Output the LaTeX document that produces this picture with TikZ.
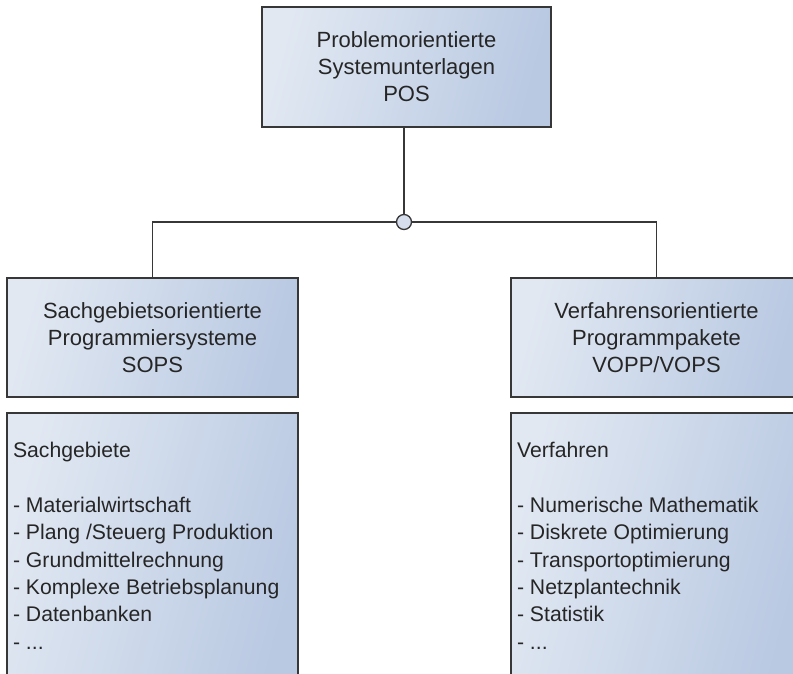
\documentclass[tikz,border=0pt]{standalone}
\usepackage{fontspec}
\setmainfont{Liberation Sans}
\definecolor{boxlight}{RGB}{225,232,242}
\definecolor{boxdark}{RGB}{185,201,226}
\definecolor{edge}{RGB}{55,55,55}
\definecolor{ink}{RGB}{38,38,38}
\definecolor{hubfill}{RGB}{214,222,238}
\begin{document}
\begin{tikzpicture}[x=1pt,y=-1pt,
  box/.style={draw=edge, line width=1.3pt, left color=boxlight, right color=boxdark,
    shading angle=75, inner sep=0, rectangle},
  link/.style={draw=edge, line width=1.3pt},
  title/.style={font=\fontsize{22}{27}\selectfont, align=center, text=ink},
  listing/.style={font=\fontsize{21.2}{27.3}\selectfont, align=left, text=ink,
    anchor=north west, inner sep=0}]
  \useasboundingbox (0,0) rectangle (793,674);
  \clip (0,0) rectangle (793,674);

  % header box
  \node[box, minimum width=289pt, minimum height=120pt] (pos) at (406.5,67) {};
  \node[title] (postext) at (pos.center) {Problemorientierte\\Systemunterlagen\\POS};

  % junction
  \node[circle, draw=edge, line width=1.3pt, fill=hubfill, minimum size=15pt, inner sep=0] (hub) at (404,222) {};

  % second level
  \node[box, minimum width=291pt, minimum height=119pt] (sops) at (152.5,337.5) {};
  \node[title] (sopstext) at (sops.center) {Sachgebietsorientierte\\Programmiersysteme\\SOPS};
  \node[box, minimum width=291pt, minimum height=119pt] (vopp) at (656.5,337.5) {};
  \node[title] (vopptext) at (vopp.center) {Verfahrensorientierte\\Programmpakete\\VOPP/VOPS};

  % detail boxes
  \node[box, minimum width=291pt, minimum height=277pt] (sach) at (152.5,551.5) {};
  \node[listing] (sachtext) at ([xshift=6.5pt,yshift=-30pt]sach.north west)
    {Sachgebiete\\[27.3pt]- Materialwirtschaft\\- Plang /Steuerg Produktion\\- Grundmittelrechnung\\- Komplexe Betriebsplanung\\- Datenbanken\\- ...};
  \node[box, minimum width=291pt, minimum height=277pt] (verf) at (656.5,551.5) {};
  \node[listing] (verftext) at ([xshift=6.5pt,yshift=-30pt]verf.north west)
    {Verfahren\\[27.3pt]- Numerische Mathematik\\- Diskrete Optimierung\\- Transportoptimierung\\- Netzplantechnik\\- Statistik\\- ...};

  % connectors
  \draw[link] (hub.north |- pos.south) -- (hub.north);
  \draw[link] (hub.west) -| (sops.north);
  \draw[link] (hub.east) -| (vopp.north);
\end{tikzpicture}
\end{document}
